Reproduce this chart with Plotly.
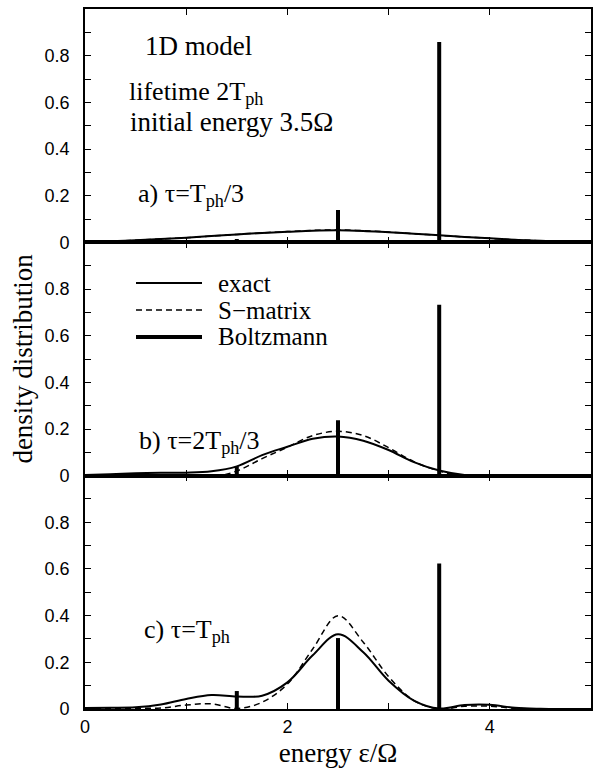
import plotly.graph_objects as go
from plotly.subplots import make_subplots

# ---------------- data ----------------
energy = [0.0, 0.25, 0.5, 0.75, 1.0, 1.25, 1.5, 1.75, 2.0, 2.25, 2.5,
          2.75, 3.0, 3.25, 3.5, 3.75, 4.0, 4.25, 4.5, 4.75, 5.0]

a_exact = [0.002, 0.005, 0.009, 0.014, 0.020, 0.027, 0.034, 0.040, 0.045, 0.050, 0.052,
           0.049, 0.043, 0.037, 0.030, 0.023, 0.017, 0.011, 0.007, 0.003, 0.001]
a_smatrix = [0.002, 0.005, 0.009, 0.014, 0.020, 0.027, 0.034, 0.041, 0.046, 0.051, 0.053,
             0.050, 0.044, 0.037, 0.030, 0.023, 0.017, 0.011, 0.007, 0.003, 0.001]

b_exact = [0.003, 0.006, 0.010, 0.012, 0.013, 0.019, 0.040, 0.088, 0.124, 0.158, 0.168,
           0.150, 0.110, 0.058, 0.022, 0.003, 0.000, 0.002, 0.003, 0.002, 0.001]
b_smatrix = [0.000, 0.002, 0.003, 0.002, 0.000, -0.006, 0.020, 0.073, 0.122, 0.172, 0.190,
             0.172, 0.120, 0.060, 0.020, -0.004, -0.002, 0.000, 0.001, 0.001, 0.000]

c_exact = [0.004, 0.005, 0.007, 0.019, 0.043, 0.060, 0.054, 0.057, 0.114, 0.230, 0.320,
           0.243, 0.121, 0.036, 0.002, 0.017, 0.018, 0.005, 0.001, 0.000, 0.000]
c_smatrix = [0.003, 0.003, 0.003, 0.004, 0.017, 0.022, 0.002, 0.029, 0.107, 0.257, 0.400,
             0.286, 0.139, 0.036, 0.000, 0.012, 0.012, 0.003, 0.000, 0.000, 0.000]

stick_energy = [1.5, 2.5, 3.5]
a_boltzmann = [0.014, 0.139, 0.859]
b_boltzmann = [0.040, 0.238, 0.733]
c_boltzmann = [0.077, 0.304, 0.624]

series_names = ["exact", "S\u2212matrix", "Boltzmann"]
panel_labels = ["a) \u03c4=T<sub>ph</sub>/3", "b) \u03c4=2T<sub>ph</sub>/3", "c) \u03c4=T<sub>ph</sub>"]
y_tick_vals_top = [0.0, 0.2, 0.4, 0.6, 0.8, 1.0]
y_tick_text_top = ["0", "0.2", "0.4", "0.6", "0.8", "1"]
y_tick_vals_low = [0.0, 0.2, 0.4, 0.6, 0.8]
y_tick_text_low = ["0", "0.2", "0.4", "0.6", "0.8"]
x_tick_vals = [0, 2, 4]
x_tick_text = ["0", "2", "4"]

# ---------------- figure ----------------
SERIF = "Liberation Serif, Times New Roman, serif"
SANS = "Liberation Sans, Arial, sans-serif"

L, R, T, B = 85, 11, 9, 59
W, H = 602, 768
PW, PH = W - L - R, H - T - B


def px(xp):
    return (xp - L) / PW


def py(yp):
    return (H - B - yp) / PH


fig = make_subplots(rows=3, cols=1, vertical_spacing=0)

line_styles = {
    "exact": dict(color="black", width=2),
    "S\u2212matrix": dict(color="black", width=1.5, dash="6px,4px"),
    "Boltzmann": dict(color="black", width=4),
}


def sticks(xs, hs):
    sx, sy = [], []
    for x, h in zip(xs, hs):
        sx += [x, x, None]
        sy += [0, h, None]
    return sx, sy


panels = [(a_exact, a_smatrix, a_boltzmann), (b_exact, b_smatrix, b_boltzmann),
          (c_exact, c_smatrix, c_boltzmann)]
for i, (ex, sm, bz) in enumerate(panels):
    row = i + 1
    fig.add_trace(go.Scatter(x=energy, y=sm, mode="lines", name=series_names[1],
                             line=dict(**line_styles[series_names[1]], shape="spline"),
                             showlegend=False), row=row, col=1)
    fig.add_trace(go.Scatter(x=energy, y=ex, mode="lines", name=series_names[0],
                             line=dict(**line_styles[series_names[0]], shape="spline"),
                             showlegend=False), row=row, col=1)
    sx, sy = sticks(stick_energy, bz)
    fig.add_trace(go.Scatter(x=sx, y=sy, mode="lines", name=series_names[2],
                             line=line_styles[series_names[2]],
                             showlegend=False), row=row, col=1)

axis_common = dict(ticks="inside", ticklen=6, tickwidth=1.2, tickcolor="black",
                   showline=True, linewidth=1.6, linecolor="black", mirror="allticks",
                   showgrid=False, zeroline=False,
                   tickfont=dict(family=SANS, size=18, color="black"))
for row in (1, 2, 3):
    fig.update_xaxes(range=[0, 5], tickvals=x_tick_vals, ticktext=x_tick_text,
                     showticklabels=(row == 3), ticklabelstandoff=1,
                     minor=dict(ticks="inside", ticklen=6, tickwidth=1.2, tickcolor="black",
                                tickvals=[1, 3, 5], showgrid=False),
                     row=row, col=1, **axis_common)
    fig.update_yaxes(range=[0, 1],
                     tickvals=y_tick_vals_top if row == 1 else y_tick_vals_low,
                     ticktext=y_tick_text_top if row == 1 else y_tick_text_low,
                     ticklabelstandoff=10,
                     minor=dict(ticks="inside", ticklen=6, tickwidth=1.2, tickcolor="black",
                                tickvals=[0.1, 0.3, 0.5, 0.7, 0.9], showgrid=False),
                     row=row, col=1, **axis_common)

fig.update_yaxes(title=dict(text="density distribution", standoff=4,
                            font=dict(family=SERIF, size=27, color="black")), row=2, col=1)
fig.update_xaxes(title=dict(text="energy \u03b5/\u03a9", standoff=9,
                            font=dict(family=SERIF, size=27, color="black")), row=3, col=1)

# text labels
text_items = [
    ("1D model", 143, 29, 27),
    ("lifetime 2T<sub>ph</sub>", 127, 75, 26),
    ("initial energy 3.5\u03a9", 128, 105, 27),
    (panel_labels[0], 136, 177, 26),
    (panel_labels[1], 137, 424, 26),
    (panel_labels[2], 142, 613, 26),
]
for txt, xp, yp, fs in text_items:
    fig.add_annotation(text=txt, x=px(xp), y=py(yp), xref="paper", yref="paper",
                       xanchor="left", yanchor="top", showarrow=False,
                       font=dict(family=SERIF, size=fs, color="black"))

# key (legend) drawn inside panel b
key_rows = [283, 310, 337]
for name, yp in zip(series_names, key_rows):
    fig.add_shape(type="line", xref="paper", yref="paper",
                  x0=px(136), x1=px(202), y0=py(yp), y1=py(yp),
                  line=line_styles[name])
    fig.add_annotation(text=name, x=px(216), y=py(yp), xref="paper", yref="paper",
                       xanchor="left", yanchor="middle", showarrow=False,
                       font=dict(family=SERIF, size=25, color="black"))

fig.update_layout(
    width=W, height=H,
    margin=dict(l=L, r=R, t=T, b=B, autoexpand=False),
    paper_bgcolor="white", plot_bgcolor="white",
    showlegend=False,
)

fig.write_html("out.html")
